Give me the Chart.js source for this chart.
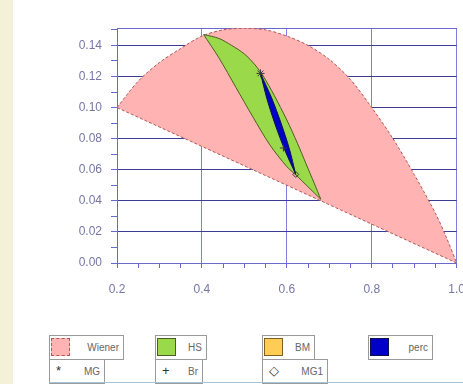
<!DOCTYPE html>
<html>
<head>
<meta charset="utf-8">
<script src="https://cdn.jsdelivr.net/npm/chart.js@4/dist/chart.umd.min.js"></script>
<style>
  body { margin: 0; width: 463px; height: 384px; background: #fff; position: relative; overflow: hidden; font-family: "Liberation Sans", Arial, sans-serif; }
  #strip { position: absolute; left: 0; top: 0; width: 13px; height: 384px; background: #f4f1d9; }
  #wrap { position: absolute; left: 13px; top: 0; width: 466px; height: 300px; }
  .lg { position: absolute; box-sizing: border-box; border: 1px solid #9a9a9a; height: 25px; font-size: 10px; color: #666; }
  .lg span { position: absolute; right: 4px; top: 6px; }
  .sw { position: absolute; left: 1px; top: 2px; width: 19px; height: 18px; box-sizing: border-box; }
  .sym { position: absolute; left: 6px; top: 3px; font-size: 13px; color: #333; }
  #base { position: absolute; left: 49px; right: 0; top: 382px; height: 1px; background: #a9c3d9; }
</style>
</head>
<body>
<div id="strip"></div>
<div id="wrap"><canvas id="c"></canvas></div>
<div id="legend"></div>
<div id="base"></div>
<script>
// Wiener bounds: upper arc then straight lower bound back to start
// (corner points are listed twice so the smoothing keeps them sharp)
const wienerX = [0.2, 0.25, 0.3, 0.35, 0.4, 0.45, 0.5, 0.55, 0.6, 0.65, 0.7, 0.75, 0.8, 0.85, 0.9, 0.95, 0.975, 1.0, 1.0, 0.68, 0.2];
const wienerY = [0.100, 0.117, 0.129, 0.138, 0.146, 0.150, 0.151, 0.150, 0.146, 0.140, 0.131, 0.118, 0.100, 0.080, 0.057, 0.032, 0.017, 0.000, 0.000, 0.040, 0.100];

// Hashin-Shtrikman region
const hsX = [0.404, 0.44, 0.47, 0.50, 0.525, 0.545, 0.57, 0.60, 0.625, 0.645, 0.665, 0.68, 0.68, 0.65, 0.62, 0.60, 0.56, 0.52, 0.48, 0.44, 0.404];
const hsY = [0.147, 0.1445, 0.140, 0.1345, 0.1275, 0.120, 0.108, 0.092, 0.077, 0.064, 0.051, 0.041, 0.041, 0.049, 0.057, 0.062, 0.076, 0.094, 0.113, 0.132, 0.147];

// BM region (not visible in the plot)
const bmX = [];
const bmY = [];

// percolation region
const percX = [0.538, 0.5641, 0.5862, 0.6056, 0.621, 0.621, 0.5950, 0.5728, 0.5535, 0.538];
const percY = [0.122, 0.1063, 0.0901, 0.0738, 0.057, 0.057, 0.0728, 0.0889, 0.1053, 0.122];

// single model points
const mgPt = [0.538, 0.122];
const brPt = [0.592, 0.074];
const mg1Pt = [0.621, 0.057];

const xMin = 0.2, xMax = 1.0, yMin = 0, yMax = 0.1512;

const pts = (xs, ys) => xs.map((x, i) => ({ x, y: ys[i] }));
const near = (v, step) => Math.abs(v / step - Math.round(v / step)) < 1e-6;

const axisColor = "#6a6acc";
const labelColor = "#7676a6";

function region(label, xs, ys, fill, line, dash, order) {
  return {
    label, data: pts(xs, ys), showLine: true, fill: "shape",
    backgroundColor: fill, borderColor: line, borderWidth: 1,
    borderDash: dash, pointRadius: 0, tension: 0.3, order
  };
}
function marker(label, p, style, r) {
  return {
    label, data: [{ x: p[0], y: p[1] }], pointStyle: style, pointRadius: r,
    borderColor: "#3a3a3a", backgroundColor: "rgba(0,0,0,0)", borderWidth: 1, order: 0
  };
}

const chart = new Chart(document.getElementById("c"), {
  type: "scatter",
  data: {
    datasets: [
      region("Wiener", wienerX, wienerY, "#ffb3b3", "#b05858", [3, 2], 5),
      region("HS", hsX, hsY, "#99d94a", "#4f5d22", [], 4),
      region("BM", bmX, bmY, "#ffcc55", "#806020", [], 3),
      region("perc", percX, percY, "#0000c8", "#10104a", [], 2),
      marker("MG", mgPt, "star", 4),
      marker("Br", brPt, "cross", 3.5),
      marker("MG1", mg1Pt, "rectRot", 3)
    ]
  },
  options: {
    responsive: true,
    maintainAspectRatio: false,
    animation: false,
    layout: { padding: { top: 28, right: 0, left: 0, bottom: 0 } },
    plugins: { legend: { display: false }, tooltip: { enabled: false } },
    scales: {
      x: {
        type: "linear", min: xMin, max: xMax,
        afterFit: s => { s.height = 37; },
        border: { color: axisColor },
        grid: {
          color: c => (near(c.tick.value, 0.2) ? "#7f7fe0" : "rgba(0,0,0,0)"),
          tickColor: axisColor, tickLength: 5
        },
        ticks: {
          stepSize: 0.05, autoSkip: false, maxRotation: 0, padding: 14,
          color: labelColor, font: { family: "Liberation Sans", size: 12 },
          callback: v => (near(v, 0.2) ? v.toFixed(1) : "")
        }
      },
      x2: {
        type: "linear", position: "top", min: 0, max: 1,
        afterFit: s => { s.height = 0; },
        border: { color: axisColor },
        grid: { display: false },
        ticks: { display: false }
      },
      y: {
        min: yMin, max: yMax,
        afterFit: s => { s.width = 104; },
        border: { color: axisColor },
        grid: {
          color: c => (near(c.tick.value, 0.02) ? "#3c3c92" : "rgba(0,0,0,0)"),
          tickColor: axisColor, tickLength: 6
        },
        ticks: {
          stepSize: 0.01, includeBounds: false, autoSkip: false, padding: 9,
          color: labelColor, font: { family: "Liberation Sans", size: 12 },
          callback: v => (near(v, 0.02) ? v.toFixed(2) : "")
        }
      }
    }
  }
});

// legend boxes, built from the datasets above
const legendPos = [
  { left: 49, top: 335, width: 75 },
  { left: 155, top: 335, width: 52 },
  { left: 262, top: 335, width: 53 },
  { left: 368, top: 335, width: 65 },
  { left: 49, top: 359, width: 56, sym: "*" },
  { left: 155, top: 359, width: 48, sym: "+" },
  { left: 262, top: 359, width: 66, sym: "\u25C7" }
];
const lg = document.getElementById("legend");
chart.data.datasets.forEach((ds, i) => {
  const p = legendPos[i];
  const box = document.createElement("div");
  box.className = "lg";
  box.style.left = p.left + "px";
  box.style.top = p.top + "px";
  box.style.width = p.width + "px";
  if (p.sym) {
    box.innerHTML = `<div class="sym">${p.sym}</div><span>${ds.label}</span>`;
  } else {
    const b = ds.borderDash.length ? `1px dashed ${ds.borderColor}` : `1px solid ${ds.borderColor}`;
    box.innerHTML = `<div class="sw" style="background:${ds.backgroundColor};border:${b}"></div><span>${ds.label}</span>`;
  }
  lg.appendChild(box);
});
</script>
</body>
</html>
